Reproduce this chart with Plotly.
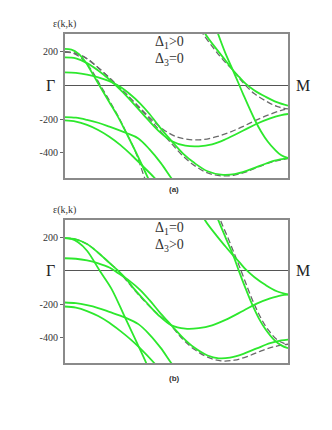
import plotly.graph_objects as go

# k runs from Gamma (0) to M (1); energies
# ---- panel (a): Delta1 > 0, Delta3 = 0 ----
a_dash_steep = [(0, 198), (0.04, 190), (0.08, 155), (0.12, 90), (0.16, 0), (0.2, -90), (0.24, -185),
                (0.276, -280), (0.32, -405), (0.358, -550), (0.38, -620)]
a_dash_broad = [(0, 198), (0.05, 190), (0.1, 158), (0.15, 105), (0.2, 45), (0.235, 0), (0.27, -45),
                (0.32, -110), (0.38, -190), (0.44, -260), (0.5, -305), (0.56, -322), (0.62, -322),
                (0.68, -305), (0.74, -278), (0.8, -243), (0.86, -205), (0.92, -172), (0.97, -148), (1, -140)]
a_dash_low = [(0, 198), (0.05, 190), (0.1, 158), (0.15, 105), (0.2, 45), (0.235, 0), (0.27, -45),
              (0.32, -115), (0.38, -200), (0.43, -275), (0.478, -345), (0.53, -420), (0.58, -475),
              (0.64, -520), (0.7, -537), (0.76, -533), (0.82, -510), (0.88, -478), (0.94, -450), (1, -435)]
a_dash_top = [(0.59, 380), (0.62, 305), (0.67, 215), (0.71, 150), (0.754, 90), (0.78, 45), (0.81, 0),
              (0.85, -50), (0.9, -92), (0.95, -125), (1, -140)]

a_green_steep = [(0, 217), (0.03, 212), (0.06, 190), (0.09, 145), (0.12, 80), (0.155, 0), (0.2, -100),
                 (0.24, -190), (0.276, -283), (0.32, -400), (0.373, -550), (0.39, -600)]
a_green_b1 = [(0, 166), (0.05, 160), (0.1, 132), (0.15, 88), (0.2, 35), (0.225, 5), (0.26, -40),
              (0.306, -105), (0.36, -185), (0.42, -270), (0.478, -330), (0.54, -358), (0.6, -362),
              (0.66, -350), (0.72, -320), (0.8, -268), (0.86, -228), (0.92, -196), (0.97, -176), (1, -170)]
a_green_b2 = [(0, 77), (0.05, 74), (0.1, 64), (0.15, 48), (0.2, 25), (0.25, -10), (0.29, -50),
              (0.336, -105), (0.38, -170), (0.43, -255), (0.478, -330), (0.53, -405), (0.58, -460),
              (0.64, -510), (0.7, -530), (0.76, -527), (0.82, -505), (0.88, -475), (0.94, -447), (1, -432)]
a_green_l1 = [(0, -188), (0.05, -192), (0.1, -205), (0.15, -222), (0.2, -245), (0.276, -283),
              (0.33, -315), (0.38, -380), (0.43, -460), (0.477, -550), (0.5, -590)]
a_green_l2 = [(0, -208), (0.05, -215), (0.1, -235), (0.15, -265), (0.2, -305), (0.25, -355),
              (0.3, -415), (0.35, -480), (0.403, -550), (0.42, -575)]
a_green_top = [(0.6, 380), (0.63, 305), (0.68, 215), (0.72, 148), (0.754, 90), (0.78, 52), (0.81, 10),
               (0.85, -30), (0.9, -68), (0.95, -100), (1, -121)]
a_green_right = [(0.67, 370), (0.687, 305), (0.72, 190), (0.754, 88), (0.776, 20), (0.8, -55),
                 (0.851, -204), (0.88, -275), (0.91, -335), (0.94, -380), (0.97, -415), (1, -431)]

# ---- panel (b): Delta1 = 0, Delta3 > 0 ----
b_dash_low = [(0, 195), (0.05, 188), (0.1, 160), (0.15, 108), (0.2, 48), (0.24, 0), (0.3, -95),
              (0.36, -185), (0.42, -262), (0.47, -318), (0.53, -410), (0.58, -468), (0.64, -515),
              (0.7, -537), (0.76, -533), (0.82, -510), (0.88, -478), (0.94, -452), (1, -438)]
b_dash_right = [(0.675, 400), (0.697, 305), (0.73, 200), (0.762, 95), (0.79, 0), (0.82, -105),
                (0.846, -190), (0.88, -285), (0.91, -350), (0.95, -410), (0.98, -432), (1, -438)]

b_green_steep = [(0, 195), (0.03, 190), (0.06, 170), (0.1, 120), (0.157, 0), (0.209, -106),
                 (0.269, -275), (0.32, -420), (0.366, -553), (0.38, -600)]
b_green_b1 = [(0, 195), (0.05, 188), (0.1, 160), (0.15, 108), (0.2, 48), (0.24, 0), (0.27, -40),
              (0.306, -100), (0.36, -180), (0.42, -265), (0.478, -325), (0.54, -345), (0.6, -342),
              (0.66, -325), (0.72, -293), (0.8, -238), (0.86, -196), (0.92, -165), (0.97, -146), (1, -142)]
b_green_b2 = [(0, 75), (0.05, 72), (0.1, 62), (0.15, 45), (0.2, 20), (0.24, -15), (0.29, -60),
              (0.336, -112), (0.38, -175), (0.43, -255), (0.478, -325), (0.53, -400), (0.58, -458),
              (0.64, -505), (0.69, -522), (0.74, -518), (0.8, -495), (0.86, -463), (0.92, -432),
              (0.97, -415), (1, -410)]
b_green_l1 = [(0, -189), (0.05, -193), (0.1, -205), (0.15, -222), (0.2, -245), (0.269, -278),
              (0.33, -318), (0.38, -380), (0.43, -460), (0.477, -550), (0.5, -590)]
b_green_l2 = [(0, -213), (0.05, -220), (0.1, -240), (0.15, -270), (0.2, -310), (0.25, -360),
              (0.3, -415), (0.336, -460), (0.403, -553), (0.42, -580)]
b_green_top = [(0.6, 380), (0.627, 305), (0.68, 210), (0.72, 145), (0.754, 92), (0.78, 55),
               (0.813, 5), (0.85, -38), (0.9, -85), (0.95, -122), (1, -141)]
b_green_right = [(0.66, 400), (0.687, 305), (0.72, 200), (0.754, 95), (0.78, 0), (0.81, -105),
                 (0.836, -190), (0.87, -285), (0.9, -350), (0.94, -415), (0.97, -445), (1, -462)]

y_ticks = [200, -200, -400]
y_range = [-550, 305]

GREEN = "rgb(45,232,45)"
DASH = "#6a6a6a"
FRAME = "#8a8a8a"
SERIF = "Liberation Serif, Times New Roman, serif"

fig = go.Figure()


def add_curve(points, xa, ya, dashed):
    xs = [p[0] for p in points]
    ys = [p[1] for p in points]
    if dashed:
        line = dict(color=DASH, width=1.3, dash="6px,3px", shape="spline", smoothing=1.0)
    else:
        line = dict(color=GREEN, width=1.8, shape="spline", smoothing=1.0)
    fig.add_trace(go.Scatter(x=xs, y=ys, mode="lines", line=line, xaxis=xa, yaxis=ya,
                             showlegend=False, hoverinfo="skip"))


for c in [a_dash_steep, a_dash_broad, a_dash_low, a_dash_top]:
    add_curve(c, "x", "y", True)
for c in [a_green_steep, a_green_b1, a_green_b2, a_green_l1, a_green_l2, a_green_top, a_green_right]:
    add_curve(c, "x", "y", False)
for c in [b_dash_low, b_dash_right]:
    add_curve(c, "x2", "y2", True)
for c in [b_green_steep, b_green_b1, b_green_b2, b_green_l1, b_green_l2, b_green_top, b_green_right]:
    add_curve(c, "x2", "y2", False)

xdom = [56.7 / 332, 280 / 332]
xax = dict(domain=xdom, range=[0, 1], showgrid=False, zeroline=False, showticklabels=False,
           ticks="", showline=True, linecolor=FRAME, linewidth=1.5, mirror=True)
yax = dict(range=y_range, showgrid=False, zeroline=True, zerolinecolor="#555555", zerolinewidth=1.3,
           tickvals=y_ticks, ticktext=[str(v) for v in y_ticks], ticks="outside", ticklen=3,
           tickcolor="#666666", tickfont=dict(family=SERIF, size=10, color="#333333"),
           showline=True, linecolor=FRAME, linewidth=1.5, mirror=True)

fig.update_layout(
    width=332, height=430, margin=dict(l=0, r=0, t=0, b=0),
    paper_bgcolor="white", plot_bgcolor="white",
    xaxis=dict(xax, anchor="y"),
    yaxis=dict(yax, domain=[1 - 170 / 430, 1 - 26 / 430], anchor="x"),
    xaxis2=dict(xax, anchor="y2"),
    yaxis2=dict(yax, domain=[1 - 355 / 430, 1 - 211.7 / 430], anchor="x2"),
)

panels = [("x", "y", "ε(k,k)", "Δ<sub>1</sub>>0", "Δ<sub>3</sub>=0", "(a)", -5),
          ("x2", "y2", "ε(k,k)", "Δ<sub>1</sub>=0", "Δ<sub>3</sub>>0", "(b)", -9)]
for xa, ya, title, l1, l2, tag, tag_shift in panels:
    xd = xa + " domain"
    yd = ya + " domain"
    fig.add_annotation(x=0, y=0, xref=xa, yref=ya, text="Γ", showarrow=False, xanchor="right",
                       xshift=-8, font=dict(family=SERIF, size=16, color="#222222"))
    fig.add_annotation(x=1, y=0, xref=xa, yref=ya, text="M", showarrow=False, xanchor="left",
                       xshift=6, font=dict(family=SERIF, size=16, color="#222222"))
    fig.add_annotation(x=-0.06, y=1, xref=xd, yref=yd, text=title, showarrow=False,
                       xanchor="left", yanchor="bottom", yshift=2,
                       font=dict(family=SERIF, size=10, color="#333333"))
    fig.add_annotation(x=0.47, y=0.94, xref=xd, yref=yd, text=l1, showarrow=False,
                       xanchor="center", yanchor="middle", font=dict(family=SERIF, size=14, color="#333333"))
    fig.add_annotation(x=0.47, y=0.82, xref=xd, yref=yd, text=l2, showarrow=False,
                       xanchor="center", yanchor="middle", font=dict(family=SERIF, size=14, color="#333333"))
    fig.add_annotation(x=0.49, y=0, xref=xd, yref=yd, text="<b>" + tag + "</b>", showarrow=False,
                       xanchor="center", yanchor="top", yshift=tag_shift,
                       font=dict(family="Arial, Liberation Sans, sans-serif", size=8, color="#333333"))

fig.write_html("out.html")
